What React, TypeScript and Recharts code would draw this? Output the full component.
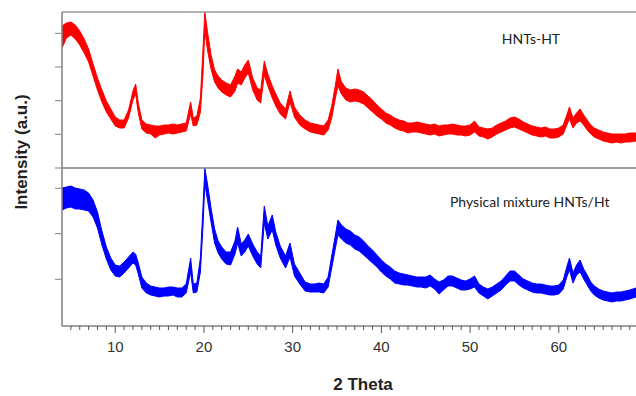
import { ComposedChart, Area, XAxis, YAxis, ReferenceLine, Customized } from "recharts"

// 2θ positions shared by both patterns
const theta = [
  4, 4.5, 5, 5.5, 6, 6.5, 7, 7.5, 8, 8.5,
  9, 9.5, 10, 10.5, 11, 11.5, 12, 12.3, 12.6, 13,
  13.5, 14, 14.5, 15, 15.5, 16, 16.5, 17, 17.5, 18,
  18.5, 18.8, 19.2, 19.6, 19.9, 20.1, 20.4, 20.8, 21.2, 21.6,
  22, 22.5, 23, 23.5, 23.8, 24.2, 24.6, 25, 25.5, 26,
  26.4, 26.8, 27.2, 27.7, 28.1, 28.6, 29.2, 29.7, 30.2, 30.8,
  31.4, 32, 32.5, 33, 33.5, 34, 34.4, 34.8, 35.1, 35.5,
  36, 36.5, 37, 37.5, 38, 38.5, 39, 39.5, 40, 40.5,
  41, 41.5, 42, 42.5, 43, 43.5, 44, 44.5, 45, 45.5,
  46, 46.5, 47, 47.5, 48, 48.5, 49, 49.5, 50, 50.5,
  51, 51.5, 52, 52.5, 53, 53.5, 54, 54.5, 55, 55.5,
  56, 56.5, 57, 57.5, 58, 58.5, 59, 59.5, 60, 60.5,
  60.9, 61.2, 61.6, 62, 62.4, 62.8, 63.2, 63.6, 64, 64.5,
  65, 65.5, 66, 66.5, 67, 67.5, 68, 68.7,
]

// HNTs-HT: lower / upper edge of the noisy trace
const htLow = [
  1200, 1300, 1330, 1290, 1230, 1150, 1060, 920, 780, 660,
  560, 490, 420, 400, 400, 500, 680, 740, 550, 390,
  350, 340, 300, 330, 340, 350, 340, 350, 360, 370,
  540, 420, 430, 560, 950, 1380, 1180, 990, 860, 800,
  760, 730, 710, 770, 850, 830, 900, 950, 780, 680,
  650, 930, 820, 700, 620, 540, 490, 660, 510, 430,
  390, 360, 350, 340, 330, 380, 500, 690, 820, 740,
  680, 660, 670, 660, 640, 600, 560, 520, 490, 450,
  430, 400, 380, 370, 350, 360, 360, 350, 340, 330,
  340, 320, 330, 340, 340, 330, 330, 320, 330, 360,
  320, 310, 290, 310, 340, 360, 380, 400, 410, 390,
  370, 350, 330, 320, 310, 320, 300, 300, 310, 340,
  430, 490, 400, 450, 470, 430, 380, 340, 310, 290,
  270, 260, 250, 260, 250, 260, 260, 270,
]
const htHigh = [
  1420, 1450, 1460, 1430, 1370, 1290, 1190, 1040, 900, 780,
  670, 590, 510, 480, 480, 580, 770, 840, 650, 480,
  440, 430, 420, 420, 430, 430, 440, 430, 440, 450,
  660, 500, 520, 700, 1200, 1560, 1360, 1130, 980, 920,
  880, 850, 830, 920, 990, 960, 1030, 1080, 900, 800,
  780, 1070, 940, 820, 740, 650, 590, 770, 610, 530,
  480, 450, 440, 430, 420, 480, 620, 820, 990, 860,
  800, 780, 790, 780, 760, 720, 680, 630, 590, 550,
  530, 500, 480, 470, 450, 450, 460, 450, 440, 430,
  440, 420, 430, 430, 440, 430, 420, 420, 430, 470,
  410, 400, 390, 400, 430, 450, 470, 500, 510, 490,
  460, 440, 420, 410, 400, 410, 390, 390, 400, 430,
  530, 610, 500, 550, 590, 530, 480, 430, 400, 380,
  360, 350, 340, 340, 340, 340, 350, 350,
]

// Physical mixture HNTs/Ht
const mixLow = [
  1160, 1180, 1190, 1170, 1170, 1160, 1150, 1090, 980, 810,
  670, 560, 500, 490, 530, 580, 630, 610, 520, 380,
  330, 310, 300, 290, 300, 300, 310, 290, 290, 330,
  540, 330, 340, 540, 1010, 1420, 1260, 1040, 830, 730,
  670, 620, 610, 720, 830, 700, 740, 800, 700, 620,
  580, 1030, 870, 960, 810, 680, 580, 690, 500, 420,
  350, 340, 340, 340, 330, 390, 580, 770, 910, 870,
  830, 810, 770, 750, 710, 670, 630, 590, 540, 500,
  470, 430, 420, 410, 410, 400, 390, 390, 380, 400,
  370, 320, 360, 400, 400, 380, 360, 360, 370, 390,
  330, 300, 270, 300, 330, 360, 410, 450, 450, 410,
  380, 360, 340, 330, 330, 320, 310, 310, 320, 370,
  490, 560, 430, 510, 540, 470, 410, 350, 310, 280,
  260, 250, 240, 250, 250, 260, 270, 290,
]
const mixHigh = [
  1380, 1390, 1400, 1380, 1370, 1360, 1330, 1260, 1140, 950,
  790, 680, 610, 600, 640, 690, 740, 720, 630, 490,
  430, 400, 390, 380, 380, 390, 390, 380, 380, 420,
  680, 420, 430, 680, 1200, 1580, 1420, 1180, 970, 850,
  790, 740, 740, 850, 990, 820, 860, 920, 820, 740,
  700, 1200, 1000, 1110, 940, 800, 700, 830, 620, 530,
  440, 420, 420, 430, 420, 490, 700, 900, 1060, 1010,
  970, 950, 910, 890, 850, 800, 760, 710, 660, 620,
  590, 550, 530, 520, 510, 500, 490, 490, 490, 510,
  470, 440, 460, 500, 500, 480, 460, 450, 470, 500,
  420, 390, 370, 390, 420, 450, 500, 550, 550, 510,
  470, 450, 430, 420, 420, 410, 400, 400, 410, 460,
  590, 680, 530, 610, 660, 570, 510, 440, 400, 370,
  350, 340, 330, 340, 340, 350, 360, 380,
]

const xTicks = [
  5, 6, 7, 8, 9, 10, 11, 12, 13, 14, 15, 16, 17, 18, 19, 20, 21, 22, 23, 24, 25, 26,
  27, 28, 29, 30, 31, 32, 33, 34, 35, 36, 37, 38, 39, 40, 41, 42, 43, 44, 45, 46, 47,
  48, 49, 50, 51, 52, 53, 54, 55, 56, 57, 58, 59, 60, 61, 62, 63, 64, 65, 66, 67, 68,
]
const yTicks = [467, 923, 1377, 1580, 1917, 2253, 2590, 2927]
const sampleNames = ["HNTs-HT", "Physical mixture HNTs/Ht"]

// HNTs-HT is stacked above the mixture
const htOffset = 1580
const yMax = 3140

const data = theta.map((t, i) => ({
  theta: t,
  ht: [htLow[i] + htOffset, htHigh[i] + htOffset],
  mix: [mixLow[i], mixHigh[i]],
}))

const axisColor = "#808080"
const arial = "'Liberation Sans', Arial, sans-serif"

function ThetaTick({ x, y, payload }: any) {
  const major = payload.value % 10 === 0
  return (
    <g>
      <line x1={x} x2={x} y1={y} y2={y + (major ? 7 : 4)} stroke="#555" />
      {major && (
        <text x={x} y={y + 26} textAnchor="middle" fontSize={15} fill="#333" fontFamily={arial}>
          {payload.value}
        </text>
      )}
    </g>
  )
}

function SampleLabels() {
  return (
    <g fontFamily="Lato, 'Open Sans', sans-serif" fontSize={14} fill="#222">
      <text x={531} y={44} textAnchor="middle">{sampleNames[0]}</text>
      <text x={450} y={207}>{sampleNames[1]}</text>
    </g>
  )
}

export default function App() {
  return (
    <div style={{ position: "absolute", left: 0, top: 0, background: "#fff" }}>
      <ComposedChart width={636} height={396} data={data} margin={{ top: 12, right: 0, bottom: 0, left: 0 }}>
        <XAxis
          dataKey="theta"
          type="number"
          domain={[4, 68.7]}
          allowDataOverflow
          ticks={xTicks}
          interval={0}
          height={70}
          tickSize={0}
          tickMargin={0}
          tickLine={false}
          tick={<ThetaTick />}
          axisLine={{ stroke: axisColor, strokeWidth: 1.5 }}
          label={{
            content: () => (
              <text x={363} y={390} textAnchor="middle" fontSize={17} fontWeight="bold" fill="#222" fontFamily={arial}>
                2 Theta
              </text>
            ),
          }}
        />
        <YAxis
          type="number"
          domain={[0, yMax]}
          allowDataOverflow
          ticks={yTicks}
          interval={0}
          width={62}
          tickSize={7}
          tickFormatter={() => ""}
          tickLine={{ stroke: axisColor }}
          axisLine={{ stroke: axisColor, strokeWidth: 1.5 }}
          label={{
            content: () => (
              <text
                x={21}
                y={152}
                transform="rotate(-90 21 152)"
                textAnchor="middle"
                dominantBaseline="central"
                fontSize={17}
                fontWeight="bold"
                fill="#222"
                fontFamily={arial}
              >
                Intensity (a.u.)
              </text>
            ),
          }}
        />
        <ReferenceLine y={yMax} stroke="#999" strokeWidth={1.5} />
        <ReferenceLine y={htOffset} stroke={axisColor} strokeWidth={1.5} />
        <Area
          type="linear"
          dataKey="ht"
          stroke="#ff0000"
          fill="#ff0000"
          fillOpacity={1}
          strokeWidth={1}
          dot={false}
          activeDot={false}
          isAnimationActive={false}
        />
        <Area
          type="linear"
          dataKey="mix"
          stroke="#0000ff"
          fill="#0000ff"
          fillOpacity={1}
          strokeWidth={1}
          dot={false}
          activeDot={false}
          isAnimationActive={false}
        />
        <Customized component={SampleLabels} />
      </ComposedChart>
    </div>
  )
}
